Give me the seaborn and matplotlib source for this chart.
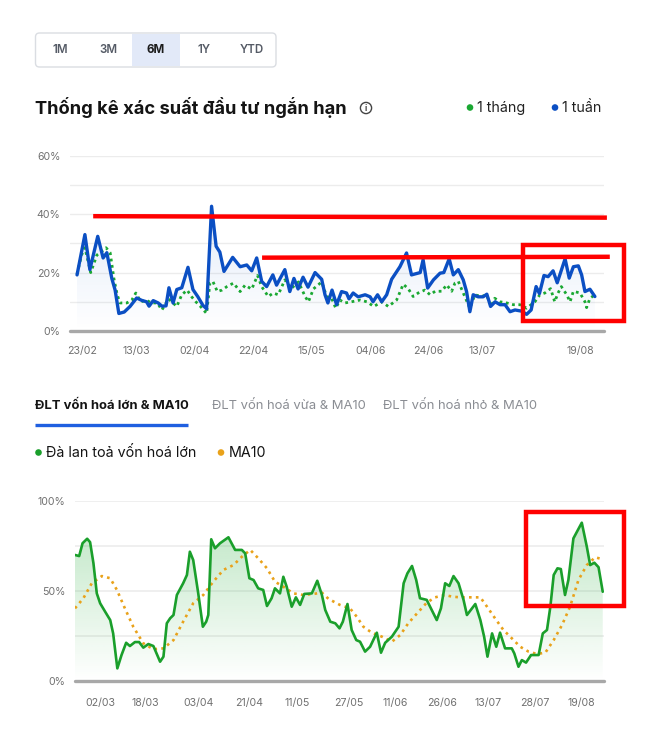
import numpy as np
import pandas as pd
import matplotlib
matplotlib.use("Agg")
import matplotlib.pyplot as plt
import seaborn as sns
from matplotlib.patches import FancyBboxPatch, Rectangle, Circle
from matplotlib.colors import to_rgb

# ---------------- data ----------------
range_buttons = ["1M", "3M", "6M", "1Y", "YTD"]
selected_range = "6M"
title_text = "Thống kê xác suất đầu tư ngắn hạn"
top_legend = ["1 tháng", "1 tuần"]
tabs = ["ĐLT vốn hoá lớn & MA10", "ĐLT vốn hoá vừa & MA10", "ĐLT vốn hoá nhỏ & MA10"]
bottom_legend = ["Đà lan toả vốn hoá lớn", "MA10"]

# top chart: (trading-day index, %)
week_points = [
    (0, 19.2), (1.9, 33), (3.1, 21), (5.0, 32.4), (6.3, 25), (7.2, 26.8), (8.4, 18), (9.2, 14),
    (10.1, 6), (11.4, 6.5), (12.8, 8.4), (14.4, 11.3), (15.6, 10.5), (16.8, 10), (17.4, 8.5),
    (18.4, 10.4), (19.6, 9.6), (20.5, 8.5), (21.5, 8.6), (22.2, 14.8), (23.2, 9.6), (24.1, 14.2),
    (25.3, 14.8), (26.8, 21.8), (28.0, 14.2), (29.2, 11.7), (30.4, 8.8), (31.3, 7.6), (32.5, 42.7),
    (33.6, 29), (34.5, 27), (35.5, 20.4), (37.6, 25.2), (39.4, 22), (41.0, 22.6), (42.2, 20.6),
    (43.4, 25), (44.6, 17), (45.8, 15.2), (47.3, 19.2), (48.2, 15.7), (50.2, 21), (51.4, 13.5),
    (52.4, 18), (53.4, 14.4), (54.6, 18.4), (55.8, 15), (57.5, 20), (59.1, 17.7), (59.9, 12.4),
    (60.6, 9.6), (61.6, 14), (62.7, 9), (63.9, 13.5), (65.1, 13), (65.7, 11), (66.7, 13),
    (67.9, 11.7), (69.6, 12.4), (70.8, 11.7), (71.5, 10), (72.6, 12.4), (73.6, 10), (74.8, 12.4),
    (76.0, 17.7), (78.0, 22), (79.6, 26.7), (80.8, 19.2), (82.9, 20), (83.6, 24.4), (84.7, 14.7),
    (86.1, 17.5), (87.7, 19.8), (88.6, 20), (89.9, 24.7), (90.9, 19.2), (92.1, 21), (93.3, 17.5),
    (94.1, 13.5), (94.9, 6.6), (95.7, 12.4), (96.9, 11.7), (98.1, 11.7), (99.0, 12.6), (99.9, 8.4),
    (101.0, 10), (102.2, 9), (103.4, 9), (104.6, 6.6), (105.8, 7.2), (107.4, 6.8), (108.6, 5.7),
    (109.7, 7.2), (110.9, 15.2), (111.7, 12.8), (112.8, 19), (113.8, 18.6), (115.0, 20.6),
    (116.0, 16.5), (117.9, 24.7), (118.9, 18.1), (119.9, 22), (121.1, 22.3), (121.9, 19.2),
    (122.7, 13.5), (123.9, 14.3), (125.1, 11.8),
]
month_points = [
    (0, 19.5), (1.1, 26), (1.9, 28.5), (3.3, 20), (4.8, 26), (6.0, 27.3), (7.0, 28.5), (8.0, 26.8),
    (8.9, 18), (9.7, 12.4), (10.4, 9.6), (12.0, 9.6), (13.2, 10.5), (14.2, 13), (15.4, 10),
    (16.8, 10.5), (18.0, 9.6), (19.4, 9.6), (20.5, 7.2), (22.1, 11), (24.1, 8.4), (25.3, 12.4),
    (26.6, 14), (27.7, 11.7), (28.7, 10), (29.7, 8.6), (31.3, 6), (32.1, 16.4), (32.8, 17),
    (33.9, 13.5), (35.0, 14), (36.2, 15.2), (37.8, 16.4), (39.4, 13.5), (40.6, 15.7), (42.2, 14.3),
    (43.6, 19), (44.6, 15.2), (46.2, 11.8), (47.4, 13), (48.6, 12.4), (50.2, 17.5), (51.7, 14.5),
    (53.5, 16.8), (55.1, 11.8), (55.9, 10), (57.1, 14.4), (59.1, 16.8), (60.3, 11.8), (61.5, 11.2),
    (62.5, 7.8), (63.5, 10.6), (64.7, 9.6), (66.3, 10), (68.4, 10.6), (70.0, 10), (71.7, 8.4),
    (73.6, 10), (75.2, 8.4), (77.2, 10.6), (78.8, 16), (80.0, 14.5), (81.2, 11.8), (82.4, 13),
    (84.0, 14), (85.3, 12.4), (86.5, 13.6), (88.1, 13.6), (89.3, 15.8), (90.5, 13.6), (91.3, 16.4),
    (92.1, 17), (93.3, 13), (94.9, 7.8), (96.1, 12.4), (97.7, 11.8), (98.9, 12.4), (100.1, 8.4),
    (100.9, 11.2), (102.2, 10), (103.8, 9.6), (105.4, 9), (107.0, 9), (108.6, 7.8), (110.6, 10),
    (111.8, 12.4), (113.0, 13), (114.4, 14.5), (115.4, 10), (116.2, 13), (117.0, 15.2),
    (118.3, 12.4), (119.1, 10), (119.9, 13.6), (121.5, 13), (122.7, 10), (123.1, 8), (123.9, 11.2),
    (124.7, 12),
]
top_tick_day = [1.1, 14.3, 28.5, 42.6, 56.7, 70.8, 84.8, 97.9, 121.5]
top_tick_labels = ["23/02", "13/03", "02/04", "22/04", "15/05", "04/06", "24/06", "13/07", "19/08"]

# bottom chart: (trading-day index, %)
spread_points = [
    (0, 69.9), (1.0, 69.3), (1.8, 76.4), (2.9, 78.9), (3.6, 77), (4.4, 65.3), (5.2, 48.6),
    (6.0, 43.1), (7.2, 38.4), (8.4, 33.8), (9.1, 26.4), (10.1, 7), (11.1, 14.4), (12.2, 21.2),
    (13.1, 19.4), (14.3, 21.6), (15.3, 21.6), (16.3, 18.5), (17.5, 20.5), (18.7, 19.4),
    (20.3, 10.7), (21.1, 13.5), (21.9, 32), (22.7, 34.8), (23.5, 36.6), (24.3, 47.7), (25.8, 54.2),
    (26.7, 58.8), (27.4, 71.7), (28.2, 67.1), (29.4, 48.6), (30.5, 30.1), (31.3, 32.9),
    (31.8, 36.6), (32.5, 78.6), (33.4, 73.6), (34.6, 76.4), (36.6, 79.7), (38.2, 72.7),
    (39.8, 72.7), (40.6, 70.8), (41.6, 57), (42.6, 56), (43.7, 51.4), (44.9, 50.5), (45.8, 41.6),
    (46.9, 45.9), (47.7, 51.4), (48.9, 48.6), (49.7, 57.8), (50.5, 52.3), (51.7, 41.2),
    (52.7, 46.4), (53.7, 42.2), (54.7, 48.3), (56.5, 48.6), (57.8, 55.6), (58.9, 47.7),
    (59.7, 39.4), (60.9, 32.9), (62.1, 32), (63.1, 29.2), (63.9, 32.9), (65.0, 42.7), (66.0, 28.3),
    (67.1, 22.7), (68.0, 21.8), (69.2, 16.3), (70.4, 19), (72.0, 26.8), (73.0, 15.7), (74.0, 21.2),
    (75.6, 24.6), (77.2, 30.1), (78.4, 54.2), (79.3, 59.7), (80.4, 63.8), (81.4, 56), (82.3, 45.9),
    (83.9, 45), (85.1, 39.4), (86.3, 33.8), (87.3, 40.3), (88.3, 54.2), (89.3, 52.7), (90.3, 58.2),
    (91.5, 54.2), (92.7, 44.9), (93.5, 36.6), (95.5, 42.7), (96.7, 33.8), (97.6, 24.6),
    (98.4, 13.5), (99.5, 26.4), (100.5, 19), (101.4, 26.8), (102.6, 18.1), (104.2, 18.1),
    (104.8, 15.3), (105.8, 7.9), (106.6, 11.6), (107.6, 10.2), (108.8, 14.4), (110.6, 14.4),
    (111.6, 26.4), (112.6, 28.3), (113.4, 41.2), (114.2, 58.8), (115.1, 62.5), (115.9, 62.1),
    (116.9, 47.7), (117.7, 56), (118.9, 79.1), (120.9, 87.8), (122.1, 74.5), (122.9, 64.3),
    (123.9, 65.6), (124.9, 63.1), (125.9, 49.5),
]
ma10_points = [
    (0, 40.3), (2.0, 45.9), (4.0, 54.2), (6.4, 58.2), (8.4, 57), (10.0, 50.5), (11.9, 40.3),
    (13.9, 30.1), (16.3, 20.9), (18.7, 17.6), (21.1, 18.1), (23.5, 22.7), (25.8, 32.9),
    (28.2, 43.1), (30.6, 47.7), (33.0, 55.1), (35.4, 61.6), (37.8, 64.3), (39.8, 68.9),
    (41.8, 72.7), (43.7, 68.1), (45.8, 62.5), (47.7, 55.1), (49.7, 52.3), (52.1, 48.6),
    (54.5, 47.7), (56.9, 48.3), (58.9, 49), (60.5, 45.5), (63.2, 42.2), (65.6, 40.3), (67.2, 35.7),
    (68.8, 30.1), (70.8, 26.8), (73.2, 24.6), (75.6, 21.8), (77.6, 25.5), (79.5, 32), (81.6, 37.5),
    (83.9, 43.4), (85.9, 46.4), (88.3, 47.7), (89.9, 46.8), (91.9, 46.4), (94.3, 46.4),
    (96.7, 46.4), (98.3, 41.2), (100.2, 34.8), (102.2, 28.3), (104.2, 23.7), (106.2, 19),
    (108.2, 16.3), (110.2, 15), (112.2, 15.7), (114.2, 22.7), (116.2, 31.1), (118.1, 41.2),
    (120.1, 56), (122.1, 64.3), (124.1, 68.6), (125.9, 67.5),
]
bottom_tick_day = [6.0, 16.7, 29.5, 41.6, 52.9, 65.3, 76.5, 87.6, 98.6, 109.8, 120.7]
bottom_tick_labels = ["02/03", "18/03", "03/04", "21/04", "11/05", "27/05", "11/06", "26/06",
                      "13/07", "28/07", "19/08"]

# hand-drawn red annotations (data coordinates)
top_line_high = [(3.9, 39.3), (128.0, 38.8)]
top_line_mid = [(44.7, 25.1), (128.7, 25.4)]
top_box = (107.7, 3.4, 132.1, 29.6)
bottom_box = (107.6, 41.6, 130.9, 93.9)

# ---------------- style ----------------
BLUE = "#0b4fc3"
GREEN_TOP = "#1aa832"
GREEN = "#1a9f2b"
ORANGE = "#e9a21a"
GRAY_TXT = "#707070"
GRID = "#ececec"
BASE = "#a8a8a8"
RED = "#ff0000"

sns.set_theme(style="white")
plt.rcParams["font.family"] = ["Inter", "DejaVu Sans"]

fig = plt.figure(figsize=(6.63, 7.45), dpi=100)
fig.patch.set_facecolor("white")

week = pd.DataFrame(week_points, columns=["day", "pct"])
month = pd.DataFrame(month_points, columns=["day", "pct"])
spread = pd.DataFrame(spread_points, columns=["day", "pct"])
ma10 = pd.DataFrame(ma10_points, columns=["day", "pct"])


def gradient_fill(ax, x, y, color, alpha_top, alpha_bottom, ytop):
    poly = ax.fill_between(x, y, 0, facecolor="none", edgecolor="none", lw=0)
    path = poly.get_paths()[0]
    rgb = to_rgb(color)
    z = np.empty((200, 1, 4))
    z[:, :, :3] = rgb
    z[:, 0, 3] = np.linspace(alpha_bottom, alpha_top, 200)
    im = ax.imshow(z, aspect="auto", extent=[min(x), max(x), 0, ytop], origin="lower",
                   zorder=1, interpolation="bilinear")
    im.set_clip_path(path, transform=ax.transData)


def style_axes(ax):
    for s in ax.spines.values():
        s.set_visible(False)
    ax.tick_params(axis="both", length=0, colors=GRAY_TXT, labelsize=7.6)
    ax.set_xlabel("")
    ax.set_ylabel("")
    ax.set_facecolor("none")


# ---------------- top chart ----------------
ax1 = fig.add_axes([70 / 663, 1 - 331 / 745, 534 / 663, 175.3 / 745])
for v in range(10, 61, 10):
    ax1.axhline(v, color=GRID, lw=1, zorder=0)
gradient_fill(ax1, week["day"].values, week["pct"].values, "#2f6fd6", 0.14, 0.0, 43)
sns.lineplot(data=month, x="day", y="pct", ax=ax1, color=GREEN_TOP, lw=2.0,
             linestyle=(0, (1.0, 1.3)), zorder=3, sort=False)
sns.lineplot(data=week, x="day", y="pct", ax=ax1, color=BLUE, lw=2.4, zorder=4, sort=False)
ax1.axhline(0, color=BASE, lw=2.4, zorder=5, clip_on=False)
ax1.set_xlim(-1.7, 127.3)
ax1.set_ylim(0, 60)
ax1.set_yticks(range(0, 61, 10))
ax1.set_yticklabels(["0%", "", "20%", "", "40%", "", "60%"])
ax1.set_xticks(top_tick_day)
ax1.set_xticklabels(top_tick_labels)
style_axes(ax1)
ax1.tick_params(axis="y", pad=7)
ax1.tick_params(axis="x", pad=11)

ax1.plot([p[0] for p in top_line_high], [p[1] for p in top_line_high], color=RED, lw=3.2,
         clip_on=False, zorder=10, solid_capstyle="butt")
ax1.plot([p[0] for p in top_line_mid], [p[1] for p in top_line_mid], color=RED, lw=3.2,
         clip_on=False, zorder=10, solid_capstyle="butt")
ax1.add_patch(Rectangle((top_box[0], top_box[1]), top_box[2] - top_box[0], top_box[3] - top_box[1],
                        fill=False, ec=RED, lw=3.2, clip_on=False, zorder=10))

# ---------------- bottom chart ----------------
ax2 = fig.add_axes([75 / 663, 1 - 681 / 745, 529 / 663, 180.3 / 745])
for v in (25, 50, 75, 100):
    ax2.axhline(v, color=GRID, lw=1.2, zorder=0)
gradient_fill(ax2, spread["day"].values, spread["pct"].values, "#2fb043", 0.30, 0.0, 88)
sns.lineplot(data=ma10, x="day", y="pct", ax=ax2, color=ORANGE, lw=1.9,
             linestyle=(0, (1.0, 1.6)), zorder=3, sort=False)
sns.lineplot(data=spread, x="day", y="pct", ax=ax2, color=GREEN, lw=1.9, zorder=4, sort=False)
ax2.axhline(0, color=BASE, lw=2.4, zorder=5, clip_on=False)
ax2.set_xlim(0, 126.2)
ax2.set_ylim(0, 100)
ax2.set_yticks([0, 25, 50, 75, 100])
ax2.set_yticklabels(["0%", "", "50%", "", "100%"])
ax2.set_xticks(bottom_tick_day)
ax2.set_xticklabels(bottom_tick_labels)
style_axes(ax2)
ax2.tick_params(axis="y", pad=7)
ax2.tick_params(axis="x", pad=12)
ax2.add_patch(Rectangle((bottom_box[0], bottom_box[1]), bottom_box[2] - bottom_box[0],
                        bottom_box[3] - bottom_box[1], fill=False, ec=RED, lw=3.2,
                        clip_on=False, zorder=10))

# ---------------- header / overlay (pixel layout) ----------------
ov = fig.add_axes([0, 0, 1, 1], zorder=-5)
ov.set_xlim(0, 663)
ov.set_ylim(745, 0)
ov.axis("off")

ov.add_patch(FancyBboxPatch((35.5, 33), 240.5, 34, boxstyle="round,pad=0,rounding_size=4",
                            ec="#dadde2", fc="white", lw=1))
ov.add_patch(Rectangle((131.5, 33.6), 48.5, 32.8, fc="#e2e9f8", ec="none"))
btn_x = [60, 108, 156, 204, 252]
for bx, lab in zip(btn_x, range_buttons):
    sel = lab == selected_range
    ov.text(bx, 50, lab, ha="center", va="center", fontsize=8.3,
            fontweight="bold" if sel else "semibold", color="#1c1c1c" if sel else "#555b66")

ov.text(35, 108, title_text, ha="left", va="center", fontsize=13.2, fontweight="bold",
        color="#141414")
ov.add_patch(Circle((366, 108), 5.6, fc="none", ec="#444444", lw=1))
ov.text(366, 108.3, "i", ha="center", va="center", fontsize=6, color="#444444", fontweight="bold")

ov.add_patch(Circle((470, 107.5), 3.3, fc=GREEN_TOP, ec="none"))
ov.text(477, 108, top_legend[0], ha="left", va="center", fontsize=10.3, color="#222222")
ov.add_patch(Circle((555, 107.5), 3.3, fc=BLUE, ec="none"))
ov.text(562, 108, top_legend[1], ha="left", va="center", fontsize=10.3, color="#222222")

tab_x = [35, 212, 383]
for i, (tx, lab) in enumerate(zip(tab_x, tabs)):
    ov.text(tx, 406, lab, ha="left", va="center", fontsize=9.4,
            fontweight="bold" if i == 0 else "normal",
            color="#141414" if i == 0 else "#8a8d93")
ov.plot([35, 188], [425, 425], color="#1f5fe0", lw=2.4, solid_capstyle="butt")

ov.add_patch(Circle((38.5, 452.5), 3.3, fc="#1a9f2b", ec="none"))
ov.text(46, 453, bottom_legend[0], ha="left", va="center", fontsize=10.3, color="#141414")
ov.add_patch(Circle((221, 452.5), 3.3, fc=ORANGE, ec="none"))
ov.text(229, 453, bottom_legend[1], ha="left", va="center", fontsize=10.3, color="#141414")

fig.savefig("out.png", dpi=100, facecolor="white")
